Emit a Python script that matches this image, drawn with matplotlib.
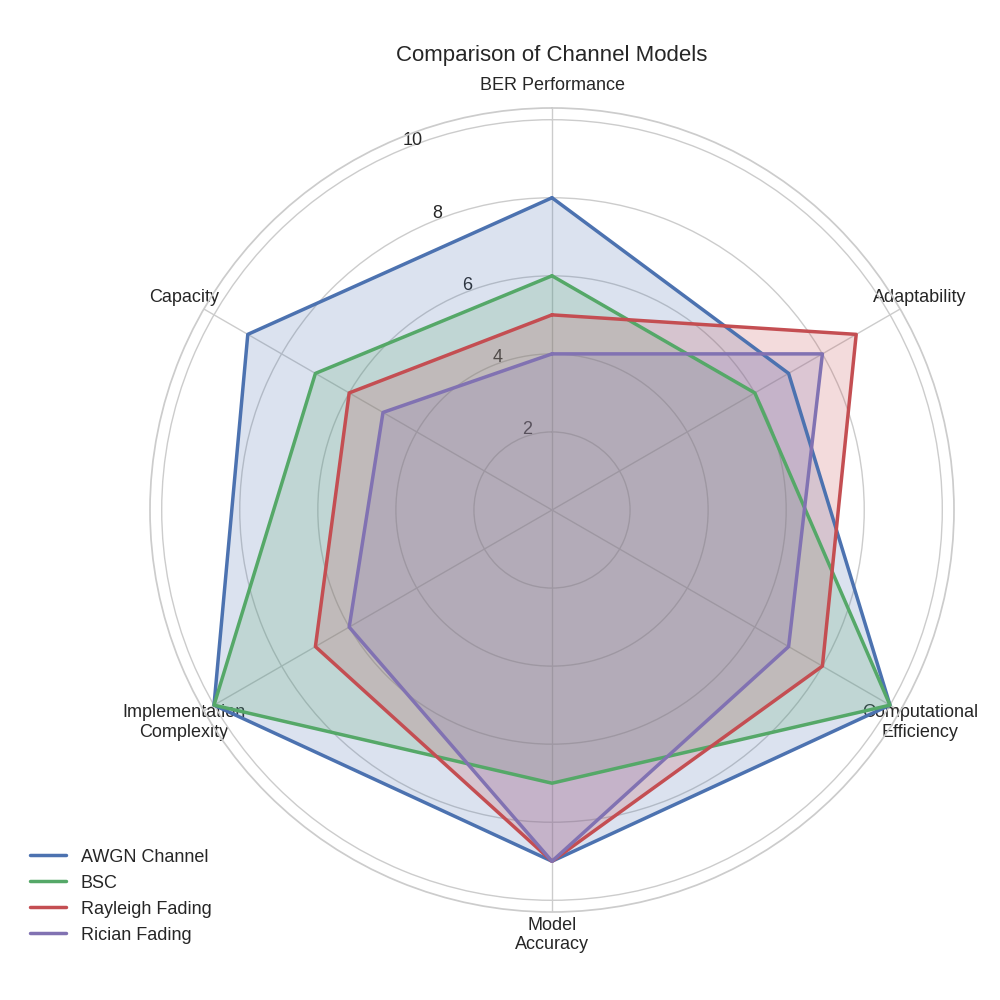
import numpy as np
import matplotlib
matplotlib.use("Agg")
import matplotlib.pyplot as plt
import seaborn as sns

categories = ["BER Performance", "Capacity", "Implementation\nComplexity",
              "Model\nAccuracy", "Computational\nEfficiency", "Adaptability"]
series_names = ["AWGN Channel", "BSC", "Rayleigh Fading", "Rician Fading"]
awgn = [8, 9, 10, 9, 10, 7]
bsc = [6, 7, 10, 7, 10, 6]
rayleigh = [5, 6, 7, 9, 8, 9]
rician = [4, 5, 6, 9, 7, 8]
series_values = [awgn, bsc, rayleigh, rician]
colors = ["#4C72B0", "#55A868", "#C44E52", "#8172B2"]

sns.set_theme(style="whitegrid")
plt.rcParams['font.family'] = ['Liberation Sans', 'DejaVu Sans']

fig = plt.figure(figsize=(10, 10), dpi=100)
ax = fig.add_axes([0.150, 0.088, 0.804, 0.804], projection='polar')
ax.set_theta_offset(np.pi / 2)

n = len(categories)
angles = np.linspace(0, 2 * np.pi, n, endpoint=False).tolist()
angles_closed = angles + angles[:1]

for name, vals, c in zip(series_names, series_values, colors):
    v = list(vals) + [vals[0]]
    ax.plot(angles_closed, v, color=c, linewidth=2.5, label=name)
    ax.fill(angles_closed, v, color=c, alpha=0.2)

ax.set_xticks(angles)
ax.set_xticklabels(categories, fontsize=13)
ax.set_ylim(0, 10.3)
ax.set_yticks([2, 4, 6, 8, 10])
ax.set_yticklabels(["2", "4", "6", "8", "10"], fontsize=13)
ax.set_title("Comparison of Channel Models", fontsize=16, pad=34)

fig.legend(loc='lower left', bbox_to_anchor=(0.014, 0.04), frameon=False, fontsize=13)

fig.savefig("out.png", dpi=100)
